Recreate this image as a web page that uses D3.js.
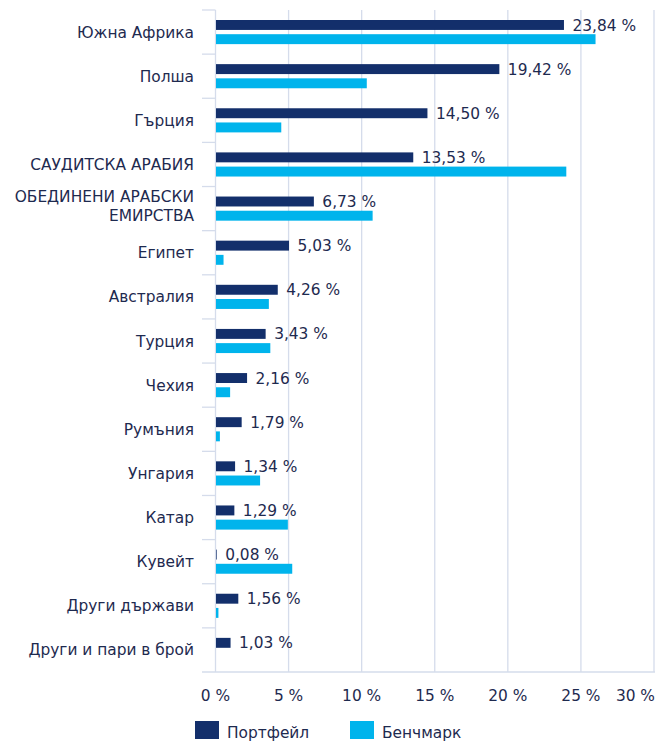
<!DOCTYPE html>
<html lang="bg">
    <head>
        <meta charset="utf-8">
        <title>Разпределение по държави</title>
        <script type="text/javascript" src="https://d3js.org/d3.v7.min.js"></script>
        <style>
            body { margin: 0; background: #fff; }
            text { font-family: "DejaVu Sans", Verdana, sans-serif; font-size: 15.4px; fill: #1e2a4f; }
        </style>
    </head>
    <body>
        <svg id="chart" width="670" height="744"></svg>
    </body>
    <script>
        let categories = ["Южна Африка", "Полша", "Гърция", "САУДИТСКА АРАБИЯ", "ОБЕДИНЕНИ АРАБСКИ ЕМИРСТВА",
            "Египет", "Австралия", "Турция", "Чехия", "Румъния", "Унгария", "Катар", "Кувейт",
            "Други държави", "Други и пари в брой"];
        let portfolio = [23.84, 19.42, 14.50, 13.53, 6.73, 5.03, 4.26, 3.43, 2.16, 1.79, 1.34, 1.29, 0.08, 1.56, 1.03];
        let benchmark = [26.0, 10.35, 4.5, 24.0, 10.75, 0.55, 3.65, 3.75, 1.0, 0.3, 3.05, 4.95, 5.25, 0.2, 0];
        let tickValues = [0, 5, 10, 15, 20, 25, 30];
        let seriesNames = ["Портфейл", "Бенчмарк"];

        let colors = ["#132f6b", "#00b4ec"];
        let gridColor = "#d5dceb";

        let svg = d3.select("#chart");
        let margin = {left: 215.5, right: 16, top: 10, bottom: 72};
        let width = 670, height = 744;

        let x = d3.scaleLinear().domain([0, 30]).range([margin.left, width - margin.right]);
        let y = d3.scaleBand().domain(categories).range([margin.top, height - margin.bottom]);
        let sub = d3.scaleBand().domain(seriesNames)
            .range([10, y.bandwidth() - 10]).paddingInner(0.3);

        // gridlines
        svg.append("g").selectAll("line").data(tickValues).join("line")
            .attr("x1", d => x(d)).attr("x2", d => x(d))
            .attr("y1", margin.top).attr("y2", height - margin.bottom)
            .attr("stroke", gridColor).attr("stroke-width", 1.3);

        // category ticks on the left axis
        let bounds = categories.map(c => y(c)).concat([height - margin.bottom]);
        svg.append("g").selectAll("line").data(bounds).join("line")
            .attr("x1", margin.left - 13.5).attr("x2", d => d === height - margin.bottom ? x(30) + 1 : margin.left)
            .attr("y1", d => d).attr("y2", d => d)
            .attr("stroke", gridColor).attr("stroke-width", 1.3);

        // bars
        let rows = categories.map((c, i) => ({c: c, p: portfolio[i], b: benchmark[i]}));
        let g = svg.append("g");
        g.selectAll(".bar-b").data(rows).join("rect")
            .attr("x", x(0) + 0.5).attr("y", d => y(d.c) + sub(seriesNames[1]))
            .attr("width", d => Math.max(0, x(d.b) - x(0) - 0.5)).attr("height", sub.bandwidth())
            .attr("fill", colors[1]);
        g.selectAll(".bar-p").data(rows).join("rect")
            .attr("x", x(0) + 0.5).attr("y", d => y(d.c) + sub(seriesNames[0]))
            .attr("width", d => Math.max(0, x(d.p) - x(0) - 0.5)).attr("height", sub.bandwidth())
            .attr("fill", colors[0]);

        // value labels
        let fmt = d3.format(".2f");
        g.selectAll(".lbl").data(rows).join("text")
            .attr("x", d => x(d.p) + 8.5)
            .attr("y", d => y(d.c) + sub(seriesNames[0]) + sub.bandwidth() / 2)
            .attr("dy", "0.36em")
            .text(d => fmt(d.p).replace(".", ",") + " %");

        // category labels (long ones wrap onto two lines)
        let labelX = margin.left - 21.5;
        svg.append("g").selectAll("text").data(categories).join("text")
            .attr("text-anchor", "end")
            .attr("x", labelX)
            .each(function(d) {
                let t = d3.select(this);
                let cy = y(d) + y.bandwidth() / 2;
                t.attr("y", cy).attr("dy", "0.36em").text(d);
                if (this.getComputedTextLength() > 185) {
                    let words = d.split(" ");
                    let last = words.pop();
                    t.text(null).attr("dy", null).attr("y", null);
                    t.append("tspan").attr("x", labelX).attr("y", cy - 12).attr("dy", "0.36em").text(words.join(" "));
                    t.append("tspan").attr("x", labelX).attr("y", cy + 6.5).attr("dy", "0.36em").text(last);
                }
            });

        // x tick labels
        svg.append("g").selectAll("text").data(tickValues).join("text")
            .attr("x", d => d === 30 ? x(d) + 1 : x(d))
            .attr("y", 700.5)
            .attr("text-anchor", d => d === 30 ? "end" : "middle")
            .text(d => d + " %");

        // legend
        let legendX = [195, 350];
        let leg = svg.append("g").selectAll("g").data(seriesNames).join("g")
            .attr("transform", (d, i) => "translate(" + legendX[i] + ",721)");
        leg.append("rect").attr("width", 24).attr("height", 18).attr("fill", (d, i) => colors[i]);
        leg.append("text").attr("x", 32).attr("y", 16.5).text(d => d);
    </script>
</html>
